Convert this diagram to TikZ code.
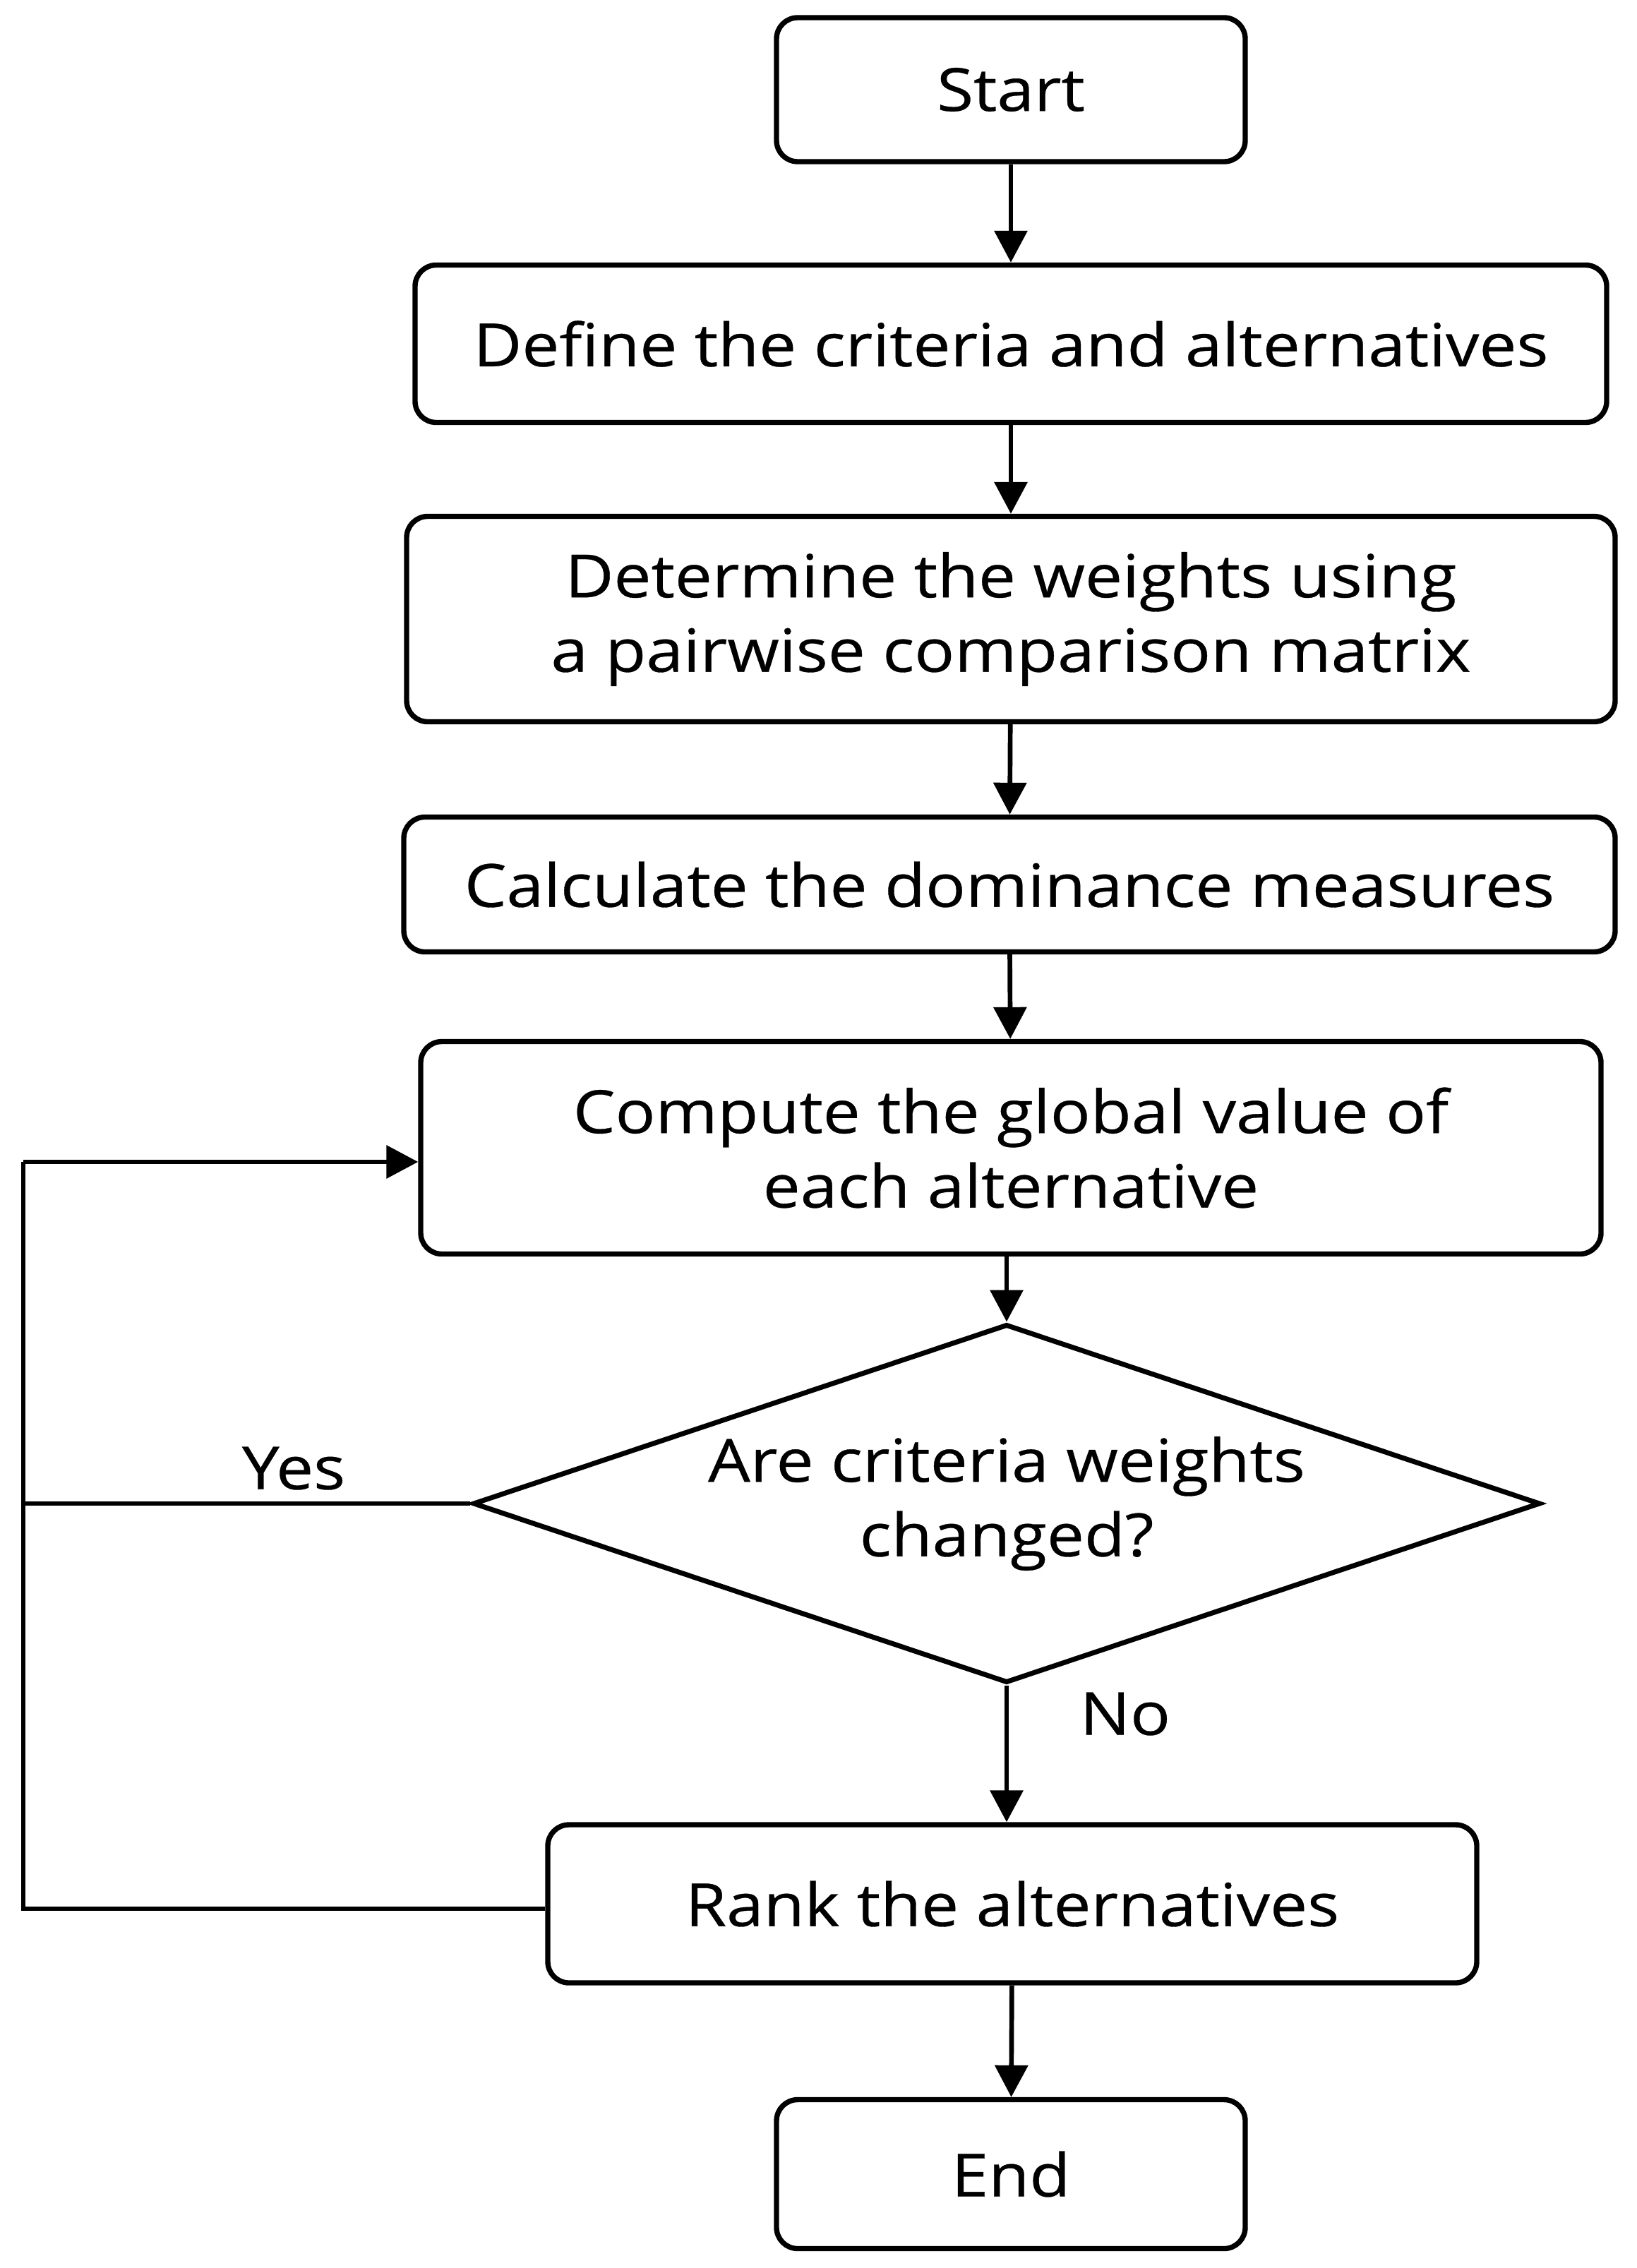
\documentclass[tikz,border=0pt]{standalone}
\usepackage{fontspec}
\setmainfont{Open Sans}[FakeStretch=1.12, FakeBold=0.4]
\usetikzlibrary{shapes.geometric,arrows.meta}
\begin{document}
\begin{tikzpicture}[every node/.style = {font=\fontsize{24}{30}\selectfont, align=center},
                procbox/.style = {shape=rectangle, rounded corners=3mm, draw,
                        line width=2.1pt, inner sep=0pt},
                decbox/.style = {shape=diamond, draw, line width=2pt, inner sep=0pt, aspect=2.98},
                flow/.style = {line width=1.9pt, -{Triangle[length=4.5mm, width=4.6mm]}},
                loopline/.style = {line width=1.9pt}]
            \useasboundingbox (0,0) rectangle (23.19,-32.13);
            \node[procbox, minimum width=6.64cm, minimum height=2.04cm] (start) at (14.32,-1.27) {Start};
            \node[procbox, minimum width=16.88cm, minimum height=2.23cm] (define) at (14.32,-4.87) {Define the criteria and alternatives};
            \node[procbox, minimum width=17.12cm, minimum height=2.91cm] (weights) at (14.32,-8.77) {Determine the weights using\\ a pairwise comparison matrix};
            \node[procbox, minimum width=17.16cm, minimum height=1.91cm] (dominance) at (14.30,-12.53) {Calculate the dominance measures};
            \node[procbox, minimum width=16.72cm, minimum height=3.01cm] (global) at (14.32,-16.26) {Compute the global value of\\ each alternative};
            \node[decbox, minimum width=15.12cm, minimum height=5.08cm] (changed) at (14.26,-21.30) {Are criteria weights\\ changed?};
            \node[procbox, minimum width=13.16cm, minimum height=2.24cm] (rank) at (14.34,-26.97) {Rank the alternatives};
            \node[procbox, minimum width=6.64cm, minimum height=2.11cm] (end) at (14.32,-30.80) {End};
            \node (yes) at (4.16,-20.80) {Yes};
            \node (no) at (15.94,-24.28) {No};
            \coordinate (looptop) at (0.33,-16.46);
            \coordinate (loopbot) at (0.33,-27.04);
            \draw[flow] (start) -- (define);
            \draw[flow] (define) -- (weights);
            \draw[flow] (weights) -- (dominance);
            \draw[flow] (dominance) -- (global);
            \draw[flow] (global.south -| changed.north) -- (changed.north);
            \draw[flow] (changed.south) -- (changed.south |- rank.north);
            \draw[flow] (rank) -- (end);
            \draw[loopline] (rank.west |- loopbot) -- (loopbot) -- (looptop);
            \draw[flow] (looptop) -- (looptop -| global.west);
            \draw[loopline] (changed.west) -- (changed.west -| looptop);
        \end{tikzpicture}
\end{document}
